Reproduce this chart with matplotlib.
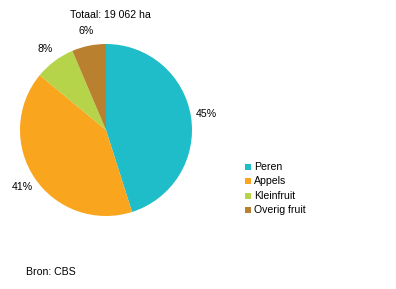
import matplotlib
matplotlib.use("Agg")
import matplotlib.pyplot as plt
from matplotlib.patches import Rectangle

categories = ["Peren", "Appels", "Kleinfruit", "Overig fruit"]
shares = [45.1, 40.9, 7.6, 6.4]
colors = ["#1fbcc9", "#f9a51e", "#b5d44a", "#b9812f"]
title = "Totaal: 19 062 ha"
source = "Bron: CBS"

plt.rcParams['font.family'] = ['Liberation Sans', 'DejaVu Sans']
FS = 7.6

W, H = 396, 289
fig = plt.figure(figsize=(W / 100, H / 100), dpi=100)
fig.patch.set_facecolor("white")

cx, cy, r = 106, 130, 86
ax = fig.add_axes([(cx - r) / W, (H - cy - r) / H, 2 * r / W, 2 * r / H])
ax.pie(shares, colors=colors, startangle=90, counterclock=False,
       autopct=lambda p: f"{round(p):d}%", pctdistance=1.18,
       textprops=dict(fontsize=FS, color="black"),
       wedgeprops=dict(linewidth=0))
ax.set_xlim(-1, 1)
ax.set_ylim(-1, 1)
ax.set_aspect("equal")
ax.axis("off")

fig.text(110 / W, 1 - 15 / H, title, ha="center", va="center", fontsize=FS)
fig.text(26 / W, 1 - 272 / H, source, ha="left", va="center", fontsize=FS)

# legend
y0, dy = 166.7, 14.5
for i, (lab, col) in enumerate(zip(categories, colors)):
    y = y0 + i * dy
    fig.patches.append(Rectangle((245 / W, 1 - (y + 3) / H), 6 / W, 6 / H,
                                 transform=fig.transFigure, facecolor=col,
                                 edgecolor="none"))
    fig.text(254 / W, 1 - y / H, lab, ha="left", va="center", fontsize=FS)

fig.savefig("out.png", dpi=100)
